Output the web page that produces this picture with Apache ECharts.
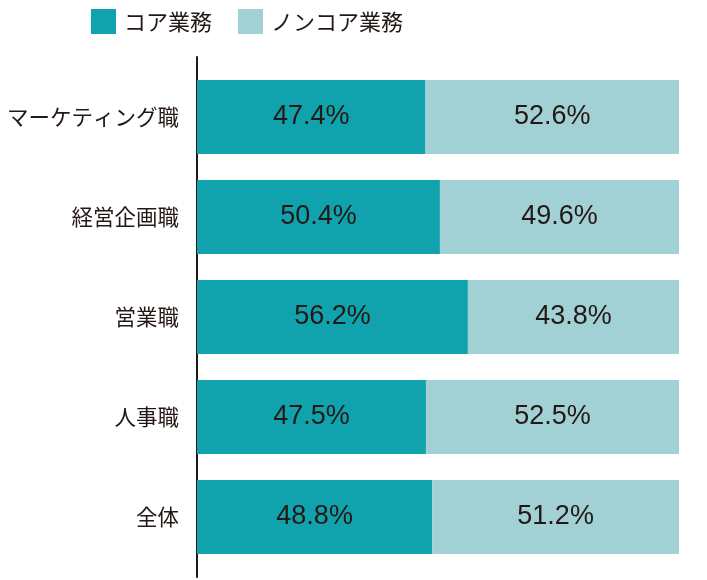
<!DOCTYPE html>
<html><head><meta charset="utf-8">
<script src="https://cdn.jsdelivr.net/npm/echarts@6/dist/echarts.min.js"></script>
<style>html,body{margin:0;padding:0;background:#fff}#c{width:707px;height:580px}</style>
</head><body><div id="c"></div>
<script>
const categories = ['マーケティング職', '経営企画職', '営業職', '人事職', '全体'];
const coreValues = [47.4, 50.4, 56.2, 47.5, 48.8];
const nonCoreValues = [52.6, 49.6, 43.8, 52.5, 51.2];
const seriesNames = ['コア業務', 'ノンコア業務'];

const textColor = '#231815';
const cjk = '"Noto Sans CJK JP", "Noto Sans", sans-serif';
const latin = '"Liberation Sans", Arial, sans-serif';

const chart = echarts.init(document.getElementById('c'));
const labelCfg = {
  show: true,
  position: 'inside',
  color: textColor,
  fontFamily: latin,
  fontSize: 27,
  formatter: p => p.value.toFixed(1) + '%'
};
chart.setOption({
  animation: false,
  legend: {
    left: 86, top: 4,
    itemWidth: 25, itemHeight: 25, itemGap: 26,
    icon: 'rect',
    textStyle: { color: textColor, fontFamily: cjk, fontSize: 22, padding: [0, 0, 0, 3] },
    data: seriesNames
  },
  grid: [
    { left: 197, right: 28, top: 67, bottom: 13 },
    { left: 197, right: 28, top: 57, bottom: 3 }
  ],
  xAxis: [
    { type: 'value', gridIndex: 0, min: 0, max: 100, show: false },
    { type: 'value', gridIndex: 1, min: 0, max: 100, show: false }
  ],
  yAxis: [
    {
      type: 'category', gridIndex: 0, data: categories, inverse: true,
      axisLine: { show: false }, axisTick: { show: false },
      axisLabel: { color: textColor, fontFamily: cjk, fontSize: 21.5, margin: 18 }
    },
    {
      type: 'value', gridIndex: 1, min: 0, max: 1,
      axisLine: { show: true, lineStyle: { color: '#231815', width: 2 } },
      axisTick: { show: false }, axisLabel: { show: false }, splitLine: { show: false }
    }
  ],
  series: [
    {
      name: seriesNames[0], type: 'bar', stack: 'total', data: coreValues,
      xAxisIndex: 0, yAxisIndex: 0, barWidth: 74,
      itemStyle: { color: '#10a3ae' }, label: labelCfg
    },
    {
      name: seriesNames[1], type: 'bar', stack: 'total', data: nonCoreValues,
      xAxisIndex: 0, yAxisIndex: 0, barWidth: 74,
      itemStyle: { color: '#a2d1d5' }, label: labelCfg
    }
  ]
});
</script></body></html>
